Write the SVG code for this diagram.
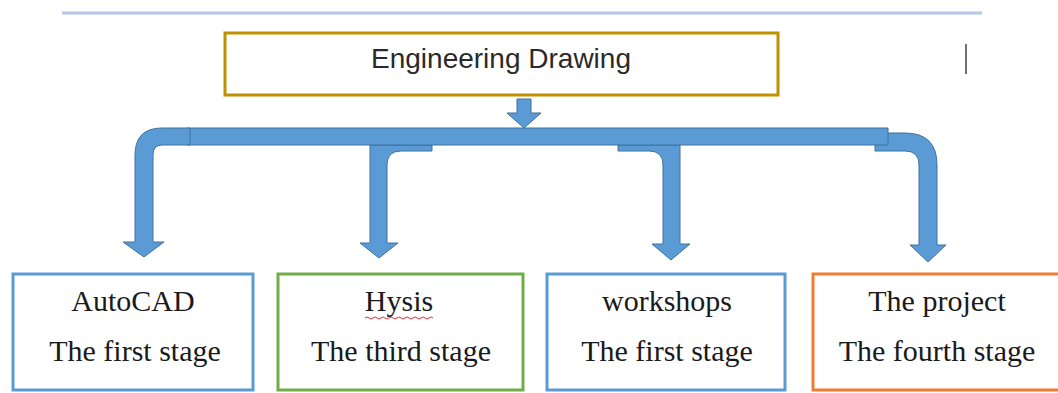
<svg xmlns="http://www.w3.org/2000/svg" width="1058" height="393" viewBox="0 0 1058 393">
<style>
.box{fill:#ffffff;stroke-width:3}
.serif{font-family:"Liberation Serif","Times New Roman",serif;font-size:30px;fill:#1a1a1a;text-anchor:middle}
.sans{font-family:"Liberation Sans",Arial,sans-serif;font-size:28px;fill:#2a2a2a;text-anchor:middle}
.arr{fill:#5b9bd5;stroke:#41719c;stroke-width:1}
</style>
<rect width="1058" height="393" fill="#ffffff"/>
<line x1="62" y1="13" x2="982" y2="13" stroke="#b5c8e3" stroke-width="3"/>
<line x1="966" y1="44" x2="966" y2="74" stroke="#444" stroke-width="1.5"/>
<g id="node-root">
<rect class="box" x="225" y="33" width="553" height="62" stroke="#bf9000"/>
<text class="sans" x="501" y="68">Engineering Drawing</text>
</g>
<g id="connectors">
<path class="arr" d="M517,99 H531 V113 H541 L524,128 L507,113 H517 Z"/>
<path class="arr" d="M370,145 H432 V151 H401 Q387,151 387,165 V243 H398 L379,258 L360,243 H370 Z"/>
<path class="arr" d="M680,145 V244 H690 L671,260 L652,244 H663 V165 Q663,151 649,151 H618 V145 Z"/>
<path class="arr" d="M875,133 H905 Q937,133 937,165 V245 H946 L928,262 L910,245 H919 V165 Q919,151 905,151 H875 Z"/>
<path class="arr" d="M187,128 H888 V145 H187 Z"/>
<path class="arr" d="M190,128 H162 Q135,128 135,155 V242 H123 L144,257 L164,242 H153 V155 Q153,145 162,145 H190 Z"/>
</g>
<g id="node-autocad">
<rect class="box" x="13" y="274" width="240" height="116" stroke="#5b9bd5"/>
<text class="serif" x="133" y="311">AutoCAD</text>
<text class="serif" x="135" y="361">The first stage</text>
</g>
<g id="node-hysis">
<rect class="box" x="278" y="274" width="245" height="116" stroke="#70ad47"/>
<text class="serif" x="399" y="311">Hysis</text>
<path d="M365,318 q2,-2 4,0 t4,0 t4,0 t4,0 t4,0 t4,0 t4,0 t4,0 t4,0 t4,0 t4,0 t4,0 t4,0 t4,0 t4,0 t4,0 t4,0" fill="none" stroke="#e03030" stroke-width="1"/>
<text class="serif" x="401" y="361">The third stage</text>
</g>
<g id="node-workshops">
<rect class="box" x="547" y="274" width="238" height="116" stroke="#5b9bd5"/>
<text class="serif" x="667" y="311">workshops</text>
<text class="serif" x="667" y="361">The first stage</text>
</g>
<g id="node-project">
<rect class="box" x="813" y="274" width="250" height="116" stroke="#ed7d31"/>
<text class="serif" x="937" y="311">The project</text>
<text class="serif" x="937" y="361">The fourth stage</text>
</g>
</svg>
